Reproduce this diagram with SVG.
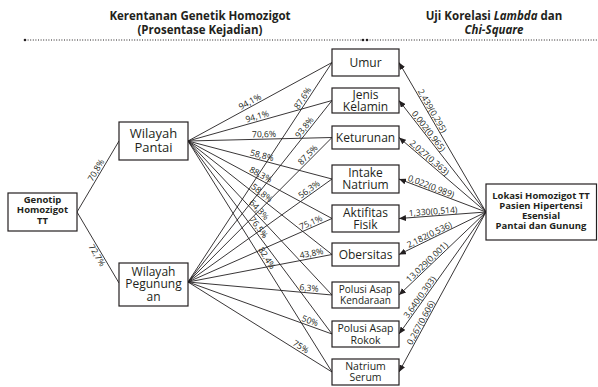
<svg xmlns="http://www.w3.org/2000/svg" width="598" height="387" viewBox="0 0 598 387">
<style>
.box{fill:#fff;stroke:#231f20;stroke-width:1.2}
.ln{stroke:#231f20;stroke-width:0.9;fill:none}
.dot{stroke:#231f20;stroke-width:1;stroke-dasharray:1 1.6;fill:none}
text{font-family:"Open Sans","Noto Sans",sans-serif;fill:#231f20;text-anchor:middle}
.n{font-size:12px}
.b{font-weight:bold}
.h{font-size:11.5px;font-weight:bold}
.l{font-size:8.6px}
</style>
<defs>
<marker id="ah" markerWidth="8" markerHeight="6" refX="7" refY="3" orient="auto" markerUnits="userSpaceOnUse">
<path d="M0,0 L7,3 L0,6 z" fill="#231f20"/>
</marker>
</defs>
<rect width="598" height="387" fill="#fff"/>
<g id="header">
<text class="h" x="200" y="20">Kerentanan Genetik Homozigot</text>
<text class="h" x="200" y="34">(Prosentase Kejadian)</text>
<text class="h" x="494" y="20">Uji Korelasi <tspan font-style="italic">Lambda</tspan> dan</text>
<text class="h" x="494" y="34" font-style="italic">Chi-Square</text>
<line class="dot" x1="25" y1="40" x2="363" y2="40"/>
<line class="dot" x1="367" y1="40" x2="598" y2="40"/>
<circle cx="25" cy="40" r="1.3" fill="#231f20"/>
<circle cx="363" cy="40" r="1.3" fill="#231f20"/>
<circle cx="367" cy="40" r="1.3" fill="#231f20"/>
</g>
<g id="connectors">
<line class="ln" x1="77" y1="212" x2="119" y2="141"/>
<line class="ln" x1="77" y1="212" x2="119" y2="283"/>
<g id="pantai-lines">
<line class="ln" x1="188" y1="141" x2="332" y2="62.5"/>
<line class="ln" x1="188" y1="141" x2="332" y2="100.5"/>
<line class="ln" x1="188" y1="141" x2="332" y2="137.5"/>
<line class="ln" x1="188" y1="141" x2="332" y2="179"/>
<line class="ln" x1="188" y1="141" x2="332" y2="218.5"/>
<line class="ln" x1="188" y1="141" x2="332" y2="254.5"/>
<line class="ln" x1="188" y1="141" x2="332" y2="295"/>
<line class="ln" x1="188" y1="141" x2="332" y2="334"/>
<line class="ln" x1="188" y1="141" x2="332" y2="372"/>
</g>
<g id="pegunungan-lines">
<line class="ln" x1="188" y1="282" x2="332" y2="62.5"/>
<line class="ln" x1="188" y1="282" x2="332" y2="100.5"/>
<line class="ln" x1="188" y1="282" x2="332" y2="137.5"/>
<line class="ln" x1="188" y1="282" x2="332" y2="179"/>
<line class="ln" x1="188" y1="282" x2="332" y2="218.5"/>
<line class="ln" x1="188" y1="282" x2="332" y2="254.5"/>
<line class="ln" x1="188" y1="282" x2="332" y2="295"/>
<line class="ln" x1="188" y1="282" x2="332" y2="334"/>
<line class="ln" x1="188" y1="282" x2="332" y2="372"/>
</g>
<g id="lokasi-arrows">
<line class="ln" x1="486" y1="212" x2="399" y2="62.5" marker-end="url(#ah)"/>
<line class="ln" x1="486" y1="212" x2="399" y2="100.5" marker-end="url(#ah)"/>
<line class="ln" x1="486" y1="212" x2="399" y2="137.5" marker-end="url(#ah)"/>
<line class="ln" x1="486" y1="212" x2="399" y2="179" marker-end="url(#ah)"/>
<line class="ln" x1="486" y1="212" x2="399" y2="218.5" marker-end="url(#ah)"/>
<line class="ln" x1="486" y1="212" x2="399" y2="254.5" marker-end="url(#ah)"/>
<line class="ln" x1="486" y1="212" x2="399" y2="295" marker-end="url(#ah)"/>
<line class="ln" x1="486" y1="212" x2="399" y2="334" marker-end="url(#ah)"/>
<line class="ln" x1="486" y1="212" x2="399" y2="372" marker-end="url(#ah)"/>
</g>
<g id="labels">
<text class="l" transform="translate(100.3,172.7) rotate(-59.4)" y="-2">70,8%</text>
<text class="l" transform="translate(101.4,252.7) rotate(59)" y="8">72,7%</text>
<text class="l" transform="translate(252.3,106) rotate(-28.6)" y="-2">94,1%</text>
<text class="l" transform="translate(258.5,121.2) rotate(-15.7)" y="-2">94,1%</text>
<text class="l" transform="translate(264.1,139.2) rotate(-1.4)" y="-2">70,6%</text>
<text class="l" transform="translate(260.6,160.2) rotate(14.8)" y="-2">58,8%</text>
<text class="l" transform="translate(258.4,178.9) rotate(28.3)" y="-2">88,3%</text>
<text class="l" transform="translate(258.8,196.8) rotate(38.25)" y="-2">58,8%</text>
<text class="l" transform="translate(255.5,213.2) rotate(46.9)" y="-2">64,3%</text>
<text class="l" transform="translate(254.7,230.4) rotate(53.3)" y="-2">76,5%</text>
<text class="l" transform="translate(262.6,260.7) rotate(58.06)" y="-2">82,4%</text>
<text class="l" transform="translate(306.8,100.8) rotate(-56.7)" y="-2">87,6%</text>
<text class="l" transform="translate(308.2,130.5) rotate(-51.6)" y="-2">93,8%</text>
<text class="l" transform="translate(311.3,158.3) rotate(-45.1)" y="-2">87,5%</text>
<text class="l" transform="translate(311.9,193.4) rotate(-35.6)" y="-2">56,3%</text>
<text class="l" transform="translate(312.7,227) rotate(-23.8)" y="-2">75,1%</text>
<text class="l" transform="translate(312.4,258.2) rotate(-10.8)" y="-2">43,8%</text>
<text class="l" transform="translate(308.6,292.9) rotate(5.16)" y="-2">6,3%</text>
<text class="l" transform="translate(308.4,325.5) rotate(19.85)" y="-2">50%</text>
<text class="l" transform="translate(298.2,350.9) rotate(32)" y="-2">75%</text>
<text class="l" transform="translate(428.5,113.2) rotate(59.8)" y="-1.5">2,439(0,295)</text>
<text class="l" transform="translate(425.1,134) rotate(52)" y="-1.5">0,002(0,965)</text>
<text class="l" transform="translate(426.5,161.1) rotate(40.6)" y="-1.5">2,027(0,363)</text>
<text class="l" transform="translate(429.5,190.6) rotate(20.8)" y="-1.5">0,022(0,989)</text>
<text class="l" transform="translate(433.4,215.9) rotate(-4.27)" y="-1.5">1,330(0,514)</text>
<text class="l" transform="translate(431.3,238.7) rotate(-26)" y="-1.5">2,182(0,536)</text>
<text class="l" transform="translate(430.1,265.3) rotate(-43.65)" y="-1.5">13,029(0,001)</text>
<text class="l" transform="translate(423.4,299.7) rotate(-54.5)" y="-1.5">3,640(0,303)</text>
<text class="l" transform="translate(424.7,324.7) rotate(-61.5)" y="-1.5">0,267(0,606)</text>
</g>
</g>
<g id="genotip">
<rect class="box" x="8" y="193" width="69" height="38"/>
<text class="b" font-size="9.5" x="42.5" y="203">Genotip</text>
<text class="b" font-size="9.5" x="42.5" y="213">Homozigot</text>
<text class="b" font-size="9.5" x="42.5" y="223.5">TT</text>
</g>
<g id="wilayah-pantai">
<rect class="box" x="119" y="122" width="69" height="38"/>
<text font-size="13" x="153.5" y="138">Wilayah</text>
<text font-size="13" x="153.5" y="152">Pantai</text>
</g>
<g id="wilayah-pegunungan">
<rect class="box" x="119" y="263" width="69" height="43"/>
<text font-size="12" x="153.5" y="275.5">Wilayah</text>
<text font-size="12" x="153.5" y="288">Pegunung</text>
<text font-size="12" x="153.5" y="300.5">an</text>
</g>
<g id="umur">
<rect class="box" x="332" y="49" width="67" height="27"/>
<text class="n" x="365.5" y="67">Umur</text>
</g>
<g id="jenis-kelamin">
<rect class="box" x="332" y="88" width="67" height="25"/>
<text class="n" x="365.5" y="99">Jenis</text>
<text class="n" x="365.5" y="110.5">Kelamin</text>
</g>
<g id="keturunan">
<rect class="box" x="332" y="126" width="67" height="23"/>
<text class="n" x="365.5" y="142">Keturunan</text>
</g>
<g id="intake-natrium">
<rect class="box" x="332" y="165" width="67" height="28"/>
<text class="n" x="365.5" y="177">Intake</text>
<text class="n" x="365.5" y="189">Natrium</text>
</g>
<g id="aktifitas-fisik">
<rect class="box" x="332" y="205" width="67" height="27"/>
<text class="n" x="365.5" y="217">Aktifitas</text>
<text class="n" x="365.5" y="228.5">Fisik</text>
</g>
<g id="obersitas">
<rect class="box" x="332" y="243" width="67" height="23"/>
<text class="n" x="365.5" y="259">Obersitas</text>
</g>
<g id="polusi-kendaraan">
<rect class="box" x="332" y="282" width="67" height="26"/>
<text font-size="10" x="365.5" y="292.5">Polusi Asap</text>
<text font-size="10" x="365.5" y="303.5">Kendaraan</text>
</g>
<g id="polusi-rokok">
<rect class="box" x="332" y="321" width="67" height="26"/>
<text font-size="10.5" x="365.5" y="332">Polusi Asap</text>
<text font-size="10.5" x="365.5" y="343.5">Rokok</text>
</g>
<g id="natrium-serum">
<rect class="box" x="332" y="359" width="67" height="26"/>
<text font-size="10.5" x="365.5" y="370">Natrium</text>
<text font-size="10.5" x="365.5" y="381">Serum</text>
</g>
<g id="lokasi">
<rect class="box" x="486" y="184" width="110.5" height="56"/>
<text class="b" font-size="9.5" x="541" y="198.5">Lokasi Homozigot TT</text>
<text class="b" font-size="9.5" x="541" y="208.5">Pasien Hipertensi</text>
<text class="b" font-size="9.5" x="541" y="218.5">Esensial</text>
<text class="b" font-size="9.5" x="541" y="229">Pantai dan Gunung</text>
</g>
</svg>
